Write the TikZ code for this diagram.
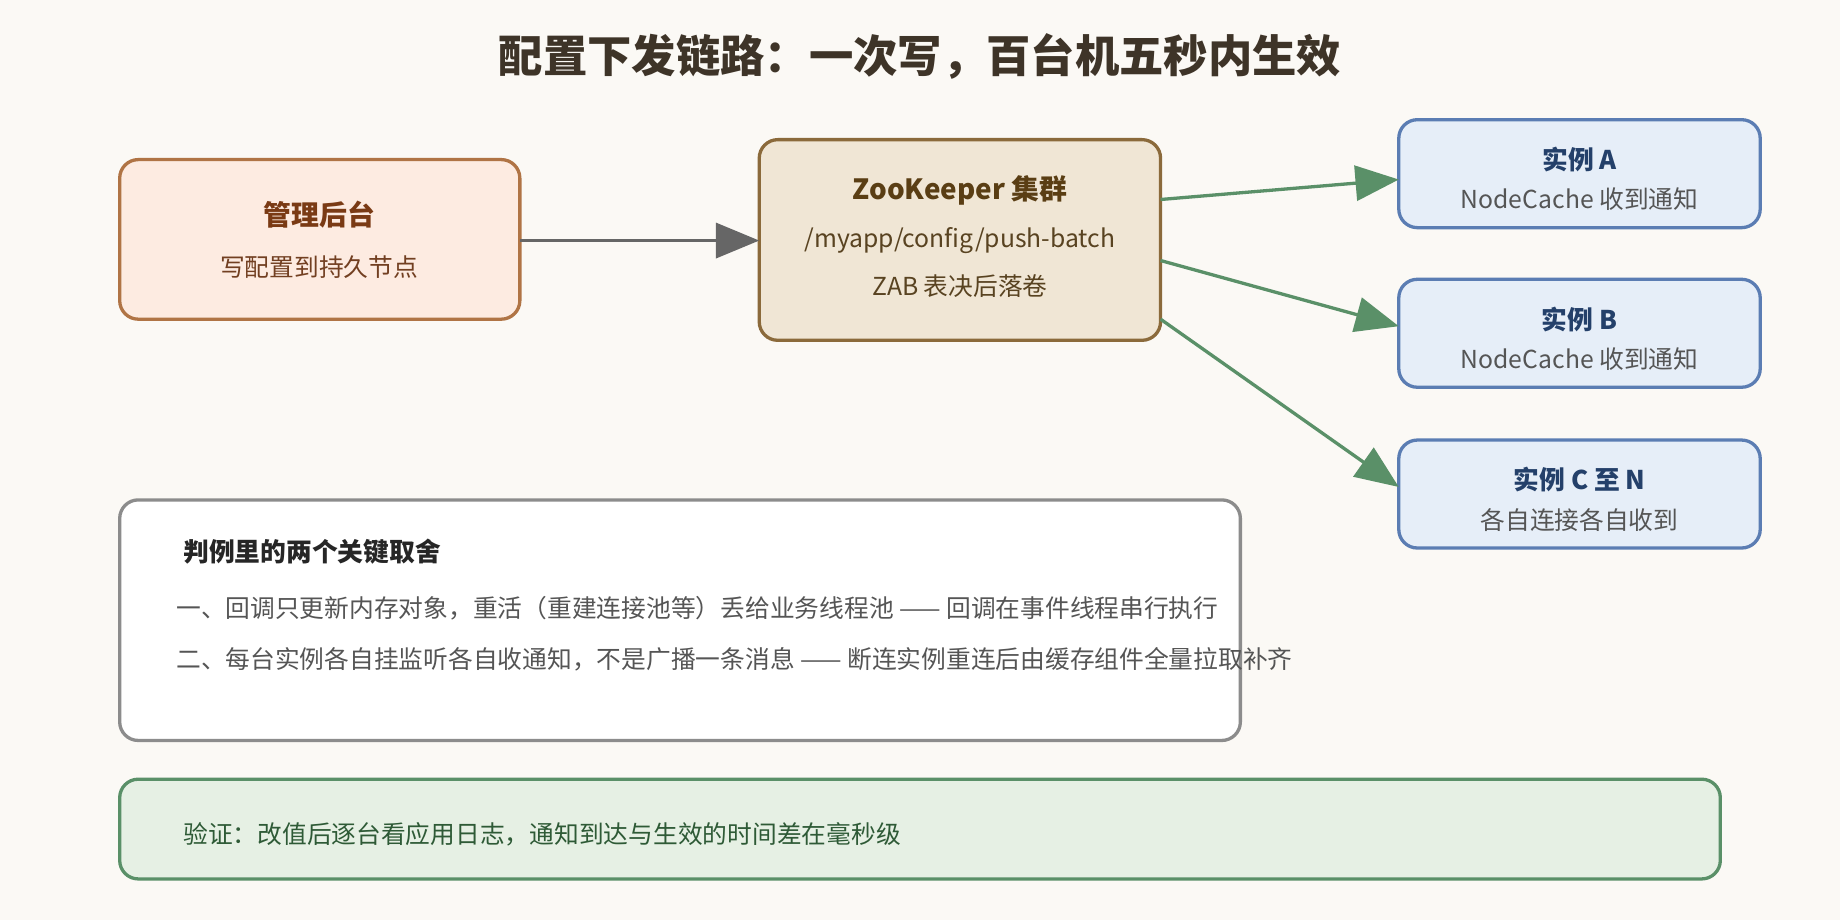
\documentclass[tikz,border=0pt]{standalone}
\usepackage{fontspec}
\setmainfont{Noto Sans CJK SC}
\usetikzlibrary{arrows.meta}
\definecolor{bgc}{HTML}{FBF9F5}
\definecolor{titletext}{HTML}{3E3428}
\definecolor{admfill}{HTML}{FDEBE1}
\definecolor{admline}{HTML}{B07445}
\definecolor{admtext}{HTML}{7A3A14}
\definecolor{zkfill}{HTML}{F0E6D5}
\definecolor{zkline}{HTML}{8B6A3B}
\definecolor{zktext}{HTML}{5A3E14}
\definecolor{insfill}{HTML}{E6EEF8}
\definecolor{insline}{HTML}{5B7DB3}
\definecolor{instext}{HTML}{24406A}
\definecolor{okfill}{HTML}{E6F0E4}
\definecolor{okline}{HTML}{5A9068}
\definecolor{oktext}{HTML}{2E5A36}
\definecolor{bodytext}{HTML}{555555}
\tikzset{
  box/.style={draw, line width=1.6pt, rounded corners=9pt},
  flow/.style={line width=1.6pt, -{Triangle[length=21pt,width=17pt]}},
  head/.style={font=\bfseries\fontsize{13.5}{16}\selectfont},
  sub/.style={font=\fontsize{12}{14}\selectfont, text=bodytext}
}
\begin{document}
\begin{tikzpicture}[x=0.02cm,y=-0.02cm]
  \fill[bgc] (0,0) rectangle (1568,784);
  \useasboundingbox (0,0) rectangle (1568,784);
  \node[font=\bfseries\fontsize{21.5}{25}\selectfont, text=titletext] (title) at (784,48) {配置下发链路：一次写，百台机五秒内生效};
  % boxes
  \draw[box, admline, fill=admfill] (102,136) rectangle (443,272);
  \draw[box, zkline, fill=zkfill] (647,119) rectangle (989,290);
  \foreach \y in {102,238,375}{
    \draw[box, insline, fill=insfill] (1192,\y) rectangle (1500,\y+92);}
  \draw[box, draw=black!45, fill=white] (102,426) rectangle (1057,631);
  \draw[box, okline, fill=okfill] (102,664) rectangle (1466,749);
  % anchors for connectors
  \coordinate (admR) at (443,205);
  \coordinate (zkL) at (647,205);
  \coordinate (zkA) at (989,170);
  \coordinate (zkB) at (989,222);
  \coordinate (zkC) at (989,272);
  \coordinate (insA) at (1192,153);
  \coordinate (insB) at (1192,278);
  \coordinate (insC) at (1192,415);
  % texts
  \node[head, text=admtext] (adm) at (272,183) {管理后台};
  \node[sub, text=admtext!80!bodytext] (admsub) at (272,228) {写配置到持久节点};
  \node[head, text=zktext] (zk) at (818,162) {ZooKeeper 集群};
  \node[sub, text=zktext!80!bodytext] (zkpath) at (818,205) {/myapp/config/push-batch};
  \node[sub, text=zktext!80!bodytext] (zkzab) at (818,244) {ZAB 表决后落卷};
  \node[head, font=\bfseries\fontsize{12.5}{15}\selectfont, text=instext] (ia) at (1346,136) {实例 A};
  \node[sub] (iasub) at (1346,170) {NodeCache 收到通知};
  \node[head, font=\bfseries\fontsize{12.5}{15}\selectfont, text=instext] (ib) at (1346,272) {实例 B};
  \node[sub] (ibsub) at (1346,306) {NodeCache 收到通知};
  \node[head, font=\bfseries\fontsize{12.5}{15}\selectfont, text=instext] (ic) at (1346,409) {实例 C 至 N};
  \node[sub] (icsub) at (1346,443) {各自连接各自收到};
  \node[head, font=\bfseries\fontsize{12.5}{15}\selectfont, text=black!85, anchor=west] (note) at (150,470) {判例里的两个关键取舍};
  \node[sub, anchor=west] (note1) at (144,518) {一、回调只更新内存对象，重活（重建连接池等）丢给业务线程池 —— 回调在事件线程串行执行};
  \node[sub, anchor=west] (note2) at (144,562) {二、每台实例各自挂监听各自收通知，不是广播一条消息 —— 断连实例重连后由缓存组件全量拉取补齐};
  \node[sub, text=oktext, anchor=west] (check) at (150,711) {验证：改值后逐台看应用日志，通知到达与生效的时间差在毫秒级};
  % connectors
  \draw[flow, black!60] (admR) -- (zkL);
  \draw[flow, okline] (zkA) -- (insA);
  \draw[flow, okline] (zkB) -- (insB);
  \draw[flow, okline] (zkC) -- (insC);
\end{tikzpicture}
\end{document}
